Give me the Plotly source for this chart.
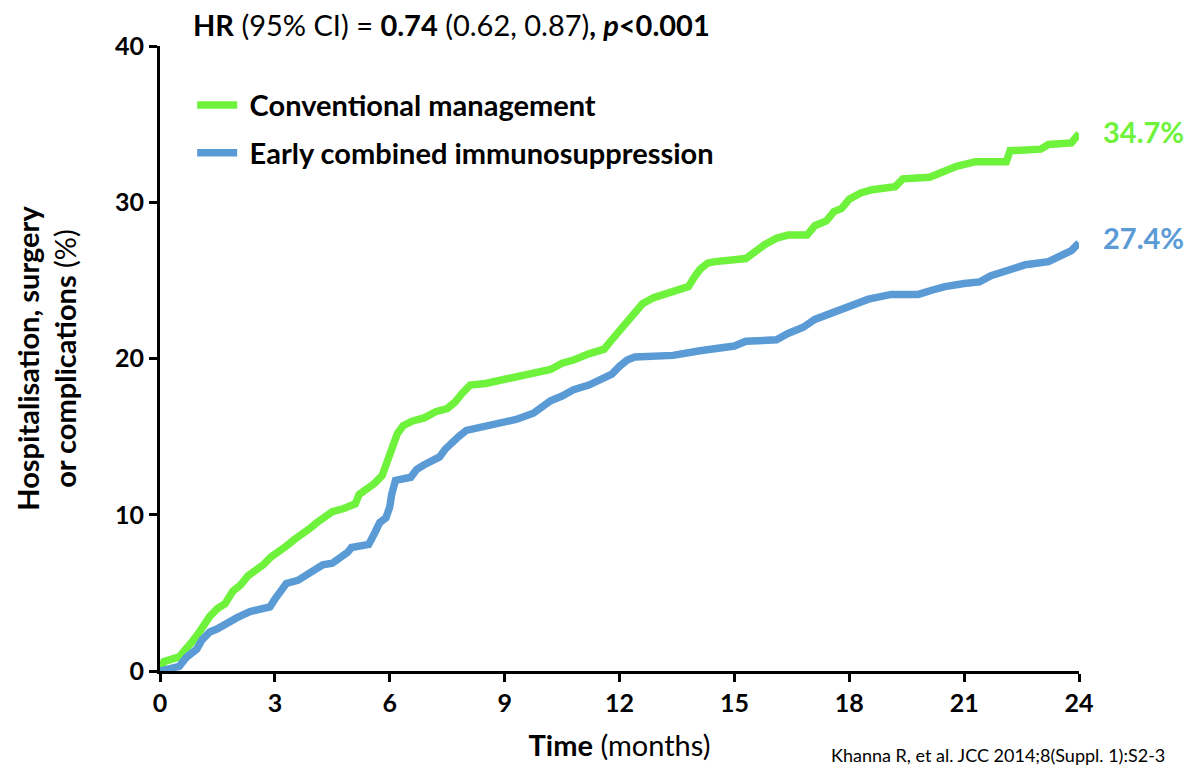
import plotly.graph_objects as go

# ---- data ----
conv_t = [0, 0.1, 0.5, 0.7, 0.85, 1.0, 1.15, 1.3, 1.5, 1.7, 1.9, 2.1, 2.3, 2.5, 2.7, 2.9,
          3.1, 3.3, 3.5, 3.7, 3.9, 4.1, 4.3, 4.5, 4.8, 5.1, 5.2, 5.4, 5.6, 5.8, 5.9, 6.0,
          6.1, 6.2, 6.35, 6.6, 6.9, 7.2, 7.5, 7.7, 7.9, 8.1, 8.5, 8.9, 9.3, 9.7, 10.2,
          10.5, 10.8, 11.2, 11.6, 11.8, 12.0, 12.2, 12.4, 12.6, 12.9, 13.2, 13.5, 13.8,
          13.95, 14.1, 14.3, 14.5, 15.3, 15.5, 15.8, 16.1, 16.4, 16.9, 17.1, 17.4, 17.6,
          17.8, 18.0, 18.3, 18.6, 19.2, 19.4, 20.1, 20.4, 20.8, 21.3, 22.1, 22.2, 23.0,
          23.2, 23.8, 24.0]
conv_y = [0, 0.6, 0.9, 1.4, 1.9, 2.4, 3.0, 3.5, 4.0, 4.3, 5.1, 5.5, 6.1, 6.4, 6.8, 7.3,
          7.6, 8.0, 8.4, 8.7, 9.1, 9.5, 9.9, 10.2, 10.4, 10.7, 11.3, 11.6, 12.0, 12.5, 13.2, 13.9,
          14.6, 15.2, 15.7, 16.0, 16.2, 16.6, 16.8, 17.2, 17.8, 18.3, 18.4, 18.6, 18.9, 19.1, 19.3,
          19.7, 19.9, 20.3, 20.6, 21.2, 21.8, 22.4, 23.0, 23.5, 23.9, 24.1, 24.4, 24.6,
          25.2, 25.7, 26.1, 26.2, 26.4, 26.8, 27.3, 27.7, 27.9, 27.9, 28.5, 28.8, 29.4,
          29.6, 30.2, 30.6, 30.8, 31.0, 31.5, 31.6, 31.9, 32.3, 32.6, 32.6, 33.3, 33.4,
          33.7, 33.8, 34.4]

early_t = [0, 0.5, 0.7, 0.96, 1.1, 1.3, 1.5, 1.75, 2.0, 2.35, 2.6, 2.87, 3.0, 3.15, 3.3,
           3.6, 3.83, 4.05, 4.25, 4.5, 4.7, 4.9, 5.0, 5.45, 5.6, 5.74, 5.9, 6.0, 6.05, 6.15,
           6.55, 6.7, 6.9, 7.1, 7.3, 7.45, 7.6, 7.8, 8.0, 8.4, 8.9, 9.3, 9.75, 10.0, 10.2,
           10.5, 10.8, 11.2, 11.5, 11.8, 12.0, 12.2, 12.4, 13.4, 14.1, 15.0, 15.3, 16.1,
           16.4, 16.8, 17.1, 17.4, 17.7, 18.0, 18.2, 18.5, 19.1, 19.8, 20.2, 20.5, 21.0,
           21.4, 21.7, 22.0, 22.3, 22.6, 23.2, 23.5, 23.8, 24.0]
early_y = [0, 0.3, 0.9, 1.4, 2.0, 2.5, 2.7, 3.1, 3.4, 3.8, 3.9, 4.1, 4.6, 5.2, 5.6,
           5.8, 6.15, 6.5, 6.8, 6.9, 7.2, 7.6, 7.9, 8.1, 8.8, 9.5, 9.8, 10.5, 11.3, 12.2,
           12.4, 12.9, 13.2, 13.4, 13.7, 14.2, 14.6, 15.0, 15.4, 15.6, 15.8, 16.1, 16.5, 16.9, 17.3,
           17.6, 18.0, 18.3, 18.6, 19.0, 19.5, 19.9, 20.1, 20.2, 20.5, 20.8, 21.1, 21.2,
           21.6, 22.0, 22.5, 22.8, 23.0, 23.3, 23.5, 23.8, 24.1, 24.1, 24.4, 24.6, 24.8,
           24.9, 25.3, 25.5, 25.7, 26.0, 26.2, 26.6, 26.9, 27.4]

series_names = ["Conventional management", "Early combined immunosuppression"]
end_labels = ["34.7%", "27.4%"]
x_ticks = [0, 3, 6, 9, 12, 15, 18, 21, 24]
y_ticks = [0, 10, 20, 30, 40]

GREEN = "#6EF23B"
BLUE = "#5B9BD5"
FONT = "Lato"

fig = go.Figure()
fig.add_trace(go.Scatter(x=conv_t, y=conv_y, mode="lines",
                         name="\u00a0<b>" + series_names[0] + "</b>",
                         legendgroup="a", line=dict(color=GREEN, width=7.5), cliponaxis=False))
fig.add_trace(go.Scatter(x=early_t, y=early_y, mode="lines",
                         name="\u00a0<b>" + series_names[1] + "</b>",
                         legendgroup="b", line=dict(color=BLUE, width=7.5), cliponaxis=False))

# end labels
fig.add_annotation(x=conv_t[-1], y=conv_y[-1], text="<b>" + end_labels[0] + "</b>", showarrow=False,
                   xanchor="left", xshift=22, yshift=2, font=dict(family=FONT, size=29, color=GREEN))
fig.add_annotation(x=early_t[-1], y=early_y[-1], text="<b>" + end_labels[1] + "</b>", showarrow=False,
                   xanchor="left", xshift=22, yshift=5, font=dict(family=FONT, size=29, color=BLUE))

# HR title
fig.add_annotation(xref="paper", yref="paper", x=0.034, y=1.0, yshift=22, xanchor="left", yanchor="middle",
                   text="<b>HR</b> (95% CI) = <b>0.74</b> (0.62, 0.87)<b>, <i>p</i><0.001</b>",
                   showarrow=False, font=dict(family=FONT, size=29, color="black"))

# citation
fig.add_annotation(xref="paper", yref="paper", x=0.728, y=0, yshift=-97, xanchor="left", yanchor="bottom",
                   text="Khanna R, et al. JCC 2014;8(Suppl. 1):S2-3", showarrow=False,
                   font=dict(family=FONT, size=18, color="black"))

axis_common = dict(showline=True, linecolor="black", linewidth=3, ticks="outside", ticklen=8,
                   tickwidth=3, tickcolor="black", showgrid=False, zeroline=False,
                   tickfont=dict(family=FONT, size=25, color="black"))

fig.update_layout(
    width=1192, height=768,
    margin=dict(l=160, r=113, t=46, b=97),
    plot_bgcolor="white", paper_bgcolor="white",
    font=dict(family=FONT, color="black"),
    showlegend=True,
    legend=dict(x=0.035, y=0.946, xanchor="left", yanchor="top", bgcolor="rgba(0,0,0,0)",
                font=dict(family=FONT, size=29, color="black"), tracegroupgap=7,
                itemwidth=40),
    xaxis=dict(range=[0, 24], tickvals=x_ticks, ticktext=["<b>%d</b>" % v for v in x_ticks],
               title=dict(text="<b>Time</b> (months)", font=dict(family=FONT, size=29), standoff=20),
               **axis_common),
    yaxis=dict(range=[0, 40], tickvals=y_ticks, ticktext=["<b>%d</b>" % v for v in y_ticks],
               title=dict(text="<b>Hospitalisation, surgery</b><br><b>or complications</b> (%)",
                          font=dict(family=FONT, size=29), standoff=30),
               **axis_common),
)

fig.write_html("out.html")
